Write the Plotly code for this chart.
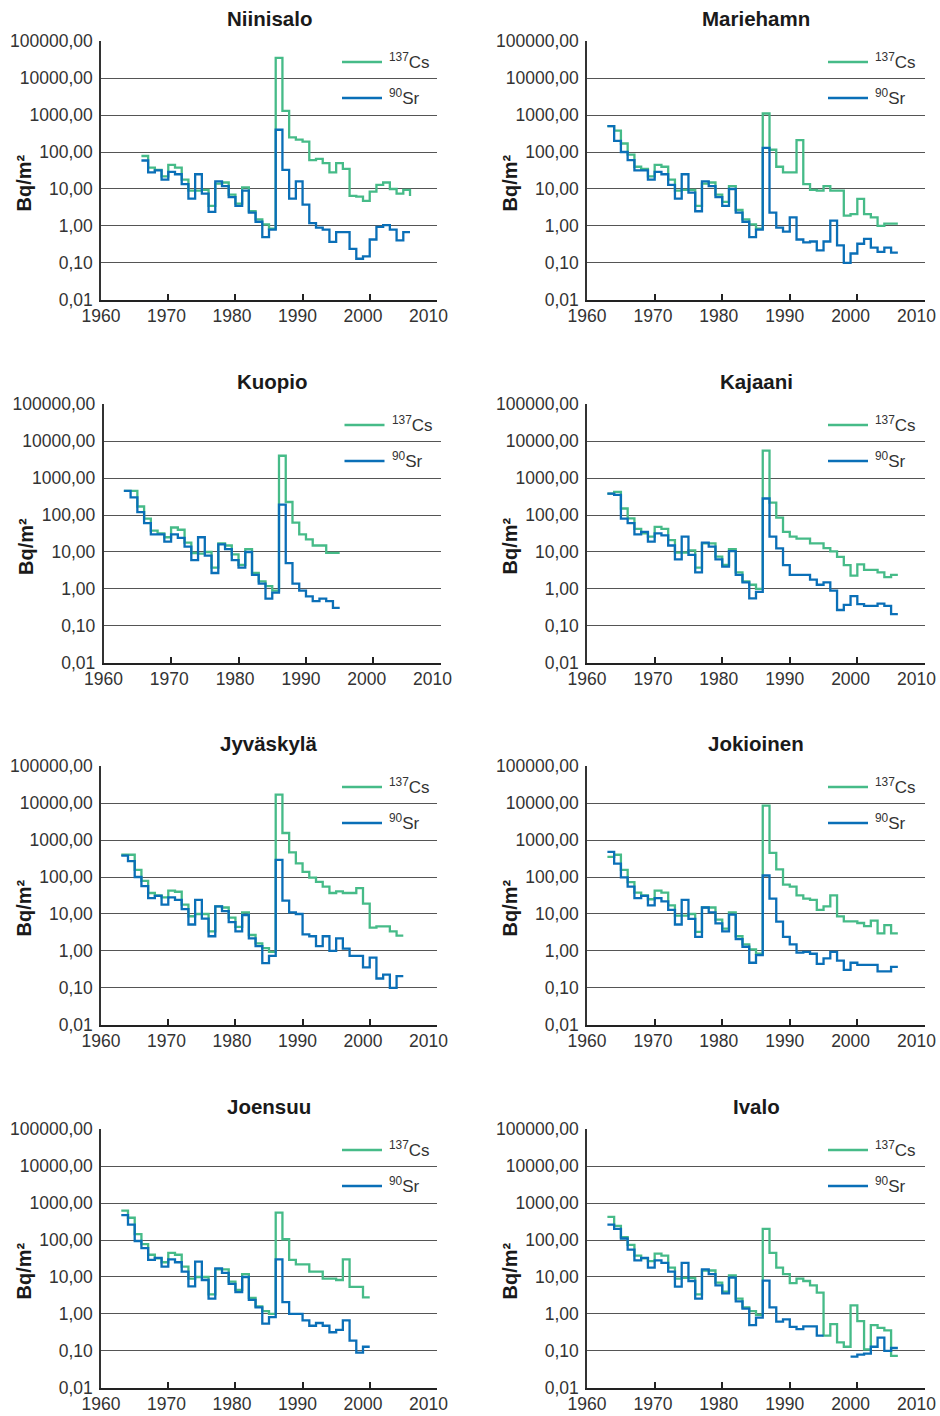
import plotly.graph_objects as go

GREEN = "#46bb88"
BLUE = "#0a6fb7"

# ---------------- data (Bq/m², yearly deposition) ----------------
niinisalo_years = list(range(1966, 2007))
niinisalo_cs = [78, 38, 33, 22, 45, 38, 18, 9, 9, 9.5,
                3.5, 14, 15, 7, 4, 11, 2.5, 1.5, 1.1, 0.85,
                35000, 1300, 250, 215, 190, 60, 65, 50, 28, 50,
                35, 6.5, 6.2, 4.8, 8.5, 13, 15, 10, 7.5, 9.5,
                6.5]
niinisalo_sr = [59, 28, 32, 18, 29, 25, 13.5, 5.5, 25, 7.5,
                2.4, 16, 12, 6, 3.5, 9, 2.3, 1.3, 0.5, 0.8,
                400, 33, 5.5, 16, 3.8, 1.2, 0.9, 0.8, 0.37, 0.68,
                0.68, 0.24, 0.13, 0.15, 0.43, 0.95, 1.05, 0.8, 0.41, 0.68,
                0.68]

mariehamn_years = list(range(1963, 2007))
mariehamn_cs = [500, 380, 170, 85, 40, 35, 22, 45, 40, 18,
                9, 9.5, 9.5, 3.5, 14, 15, 7, 4.5, 12, 2.7,
                1.5, 1.1, 0.85, 1100, 115, 40, 28, 28, 210, 13.5,
                9.5, 9, 12, 9, 9, 1.9, 2.1, 5.4, 2.1, 1.7,
                1.0, 1.15, 1.15, 1.15]
mariehamn_sr = [500, 200, 100, 60, 32, 32, 18, 29, 25, 13,
                5.5, 25, 8, 2.5, 16, 12, 6, 3.5, 10, 2.3,
                1.3, 0.5, 0.8, 130, 2.3, 0.9, 0.7, 1.7, 0.43, 0.36,
                0.38, 0.22, 0.38, 1.4, 0.3, 0.1, 0.18, 0.33, 0.45, 0.26,
                0.2, 0.26, 0.19, 0.19]

kuopio_years = list(range(1963, 1996))
kuopio_cs = [450, 450, 170, 80, 38, 32, 25, 46, 40, 18,
             9.4, 9, 10, 3.8, 17, 15, 8.6, 4.5, 12, 2.7,
             1.6, 1.2, 0.9, 4000, 225, 62, 30, 22, 15, 15,
             9.5, 9.5, 9.5]
kuopio_sr = [450, 300, 120, 60, 30, 30, 19, 30, 24, 14,
             6, 25, 8, 2.7, 16, 12, 6, 3.8, 10, 2.4,
             1.4, 0.55, 0.8, 190, 5, 1.4, 0.9, 0.63, 0.47, 0.55,
             0.47, 0.31, 0.31]

kajaani_years = list(range(1963, 2007))
kajaani_cs = [380, 420, 150, 81, 42, 32, 26, 48, 42, 21,
              9.6, 9.6, 11, 3.8, 17, 17, 7.5, 4.5, 12, 2.8,
              1.6, 1.3, 1.0, 5500, 215, 85, 35, 26, 23, 23,
              17, 17, 12.7, 10.4, 7.4, 4.4, 2.3, 4.6, 3.3, 3.3,
              2.8, 2.1, 2.4, 2.4]
kajaani_sr = [380, 350, 80, 60, 30, 35, 19, 32, 28, 15,
              6.3, 26, 8.4, 2.8, 18, 14, 6.3, 4, 10.5, 2.4,
              1.5, 0.56, 0.83, 280, 26, 12.6, 4.4, 2.4, 2.4, 2.4,
              1.8, 1.3, 1.5, 0.9, 0.27, 0.37, 0.64, 0.39, 0.35, 0.35,
              0.4, 0.35, 0.21, 0.21]

jyvaskyla_years = list(range(1963, 2006))
jyvaskyla_cs = [400, 400, 155, 79, 37, 32, 28, 43, 40, 18,
                8.7, 10, 10, 3.4, 16, 15, 8, 4.5, 11, 2.7,
                1.6, 1.2, 0.95, 17000, 1550, 465, 235, 138, 96, 74,
                55, 37, 41, 37, 37, 50, 19, 4.3, 4.6, 4.6,
                3.4, 2.6, 2.6]
jyvaskyla_sr = [380, 270, 100, 57, 27, 31, 18, 28, 24, 13.5,
                5.2, 24, 7.5, 2.5, 16, 12, 6, 3.4, 9.4, 2.2,
                1.35, 0.47, 0.74, 290, 23, 11, 10, 2.8, 2.5, 1.35,
                2.5, 1.0, 2.2, 1.15, 0.74, 0.74, 0.36, 0.66, 0.18, 0.23,
                0.1, 0.21, 0.21]

jokioinen_years = list(range(1963, 2007))
jokioinen_cs = [350, 400, 155, 73, 38, 32, 25, 43, 38, 17,
                9, 9, 10, 3.3, 15, 15, 7, 4, 11, 2.5,
                1.5, 1.1, 0.85, 8500, 450, 160, 62, 55, 32, 26,
                24, 13, 16, 32, 8.6, 6.3, 6.3, 5.7, 4.7, 6.6,
                3.0, 5.0, 3.0, 3.0]
jokioinen_sr = [480, 230, 98, 55, 27, 31, 17, 27, 22, 13,
                5.2, 24, 7.4, 2.4, 15, 11, 5.6, 3.4, 9.6, 2.1,
                1.3, 0.48, 0.77, 110, 26, 6.2, 2.4, 1.5, 0.9, 0.95,
                0.84, 0.45, 0.63, 0.95, 0.55, 0.31, 0.48, 0.42, 0.42, 0.42,
                0.28, 0.28, 0.37, 0.37]

joensuu_years = list(range(1963, 2001))
joensuu_cs = [620, 400, 145, 77, 40, 32, 25, 45, 40, 19,
              9, 10, 10, 3.4, 16, 16, 7.5, 4.5, 12, 2.7,
              1.6, 1.2, 1.0, 550, 105, 29, 22, 22, 14, 14,
              9, 9, 8.3, 30, 5.4, 5.4, 2.8, 2.8]
joensuu_sr = [470, 260, 94, 60, 29, 33, 19, 30, 25, 14,
              5.6, 26, 8.3, 2.6, 17, 13, 6.5, 3.9, 10, 2.4,
              1.5, 0.55, 0.82, 30, 2.1, 1.0, 1.0, 0.67, 0.48, 0.57,
              0.48, 0.32, 0.37, 0.67, 0.19, 0.09, 0.13, 0.13]

ivalo_years = list(range(1963, 2007))
ivalo_cs = [420, 240, 120, 74, 38, 32, 27, 43, 38, 18,
            9, 9.5, 9.5, 3.4, 15, 15, 7, 4, 11, 2.6,
            1.5, 1.2, 0.95, 200, 45, 18, 12, 6.8, 9, 7.8,
            5.9, 3.8, 0.26, 0.53, 0.17, 0.13, 1.7, 0.64, 0.11, 0.5,
            0.42, 0.36, 0.074, 0.074]
ivalo_sr = [260, 200, 110, 55, 28, 33, 18, 28, 24, 14,
            5.5, 24, 7.8, 2.6, 16, 12, 5.9, 3.6, 9.6, 2.2,
            1.4, 0.5, 0.8, 8, 1.5, 0.62, 0.71, 0.45, 0.39, 0.46,
            0.46, 0.26, 0.26, None, None, None, 0.07, 0.08, 0.085, 0.13,
            0.23, 0.1, 0.12, 0.12]

x_ticks = [1960, 1970, 1980, 1990, 2000, 2010]
y_ticks = [0.01, 0.1, 1, 10, 100, 1000, 10000, 100000]
y_ticktext = ["0,01", "0,10", "1,00", "10,00", "100,00", "1000,00", "10000,00", "100000,00"]
legend_cs = "<sup>137</sup>Cs"
legend_sr = "<sup>90</sup>Sr"
y_title = "Bq/m²"

panels = [
    ("Niinisalo", niinisalo_years, niinisalo_cs, niinisalo_sr),
    ("Mariehamn", mariehamn_years, mariehamn_cs, mariehamn_sr),
    ("Kuopio", kuopio_years, kuopio_cs, kuopio_sr),
    ("Kajaani", kajaani_years, kajaani_cs, kajaani_sr),
    ("Jyväskylä", jyvaskyla_years, jyvaskyla_cs, jyvaskyla_sr),
    ("Jokioinen", jokioinen_years, jokioinen_cs, jokioinen_sr),
    ("Joensuu", joensuu_years, joensuu_cs, joensuu_sr),
    ("Ivalo", ivalo_years, ivalo_cs, ivalo_sr),
]

# ---------------- layout geometry (pixels) ----------------
W, H = 940, 1416
row_tops = [41, 404, 766, 1129]
plot_h = 259
col_lr = {0: (101, 437), 1: (587, 925)}
special_lr = {2: (103.5, 441)}  # Kuopio panel sits slightly to the right
label_shrink = 8.5  # year labels in the original are spaced slightly tighter than the ticks

FONT = "Liberation Sans, Arial, Helvetica, sans-serif"
TXT = "#333333"

fig = go.Figure()
annotations = []
shapes = []
layout_axes = {}

for i, (name, years, cs, sr) in enumerate(panels):
    row, col = divmod(i, 2)
    L, R = special_lr.get(i, col_lr[col])
    T = row_tops[row]
    B = T + plot_h
    n = "" if i == 0 else str(i + 1)
    xa, ya = "x" + n, "y" + n
    nl = str(i + 9)
    xl = "x" + nl

    fig.add_trace(go.Scatter(x=years, y=cs, mode="lines", name="137Cs",
                             line=dict(color=GREEN, width=2.3, shape="hv"),
                             xaxis=xa, yaxis=ya, showlegend=False,
                             connectgaps=False, hoverinfo="skip"))
    fig.add_trace(go.Scatter(x=years, y=sr, mode="lines", name="90Sr",
                             line=dict(color=BLUE, width=2.3, shape="hv"),
                             xaxis=xa, yaxis=ya, showlegend=False,
                             connectgaps=False, hoverinfo="skip"))
    # empty trace to attach the label-only x axis
    fig.add_trace(go.Scatter(x=[], y=[], mode="lines", xaxis=xl, yaxis=ya,
                             showlegend=False, hoverinfo="skip"))

    layout_axes["xaxis" + n] = dict(
        domain=[L / W, R / W], anchor=ya, range=[1959.98, 2010.02],
        tickvals=x_ticks, ticks="inside", ticklen=6, tickwidth=1.5,
        tickcolor="#222", showline=True, linecolor="#222", linewidth=2.2,
        showgrid=False, zeroline=False, showticklabels=False,
        automargin=False, fixedrange=True)
    span = R - L
    layout_axes["xaxis" + nl] = dict(
        domain=[L / W, R / W], anchor=ya, overlaying=xa, side="bottom",
        range=[1960, 1960 + 50 * span / (span - label_shrink)],
        tickvals=x_ticks, ticks="", showline=False, showgrid=False,
        zeroline=False, ticklabelstandoff=3, automargin=False,
        tickfont=dict(family=FONT, size=17.5, color=TXT), fixedrange=True)
    layout_axes["yaxis" + n] = dict(
        domain=[1 - B / H, 1 - T / H], anchor=xa, type="log",
        range=[-2.002, 5.002], tickvals=y_ticks, ticktext=y_ticktext,
        ticks="", showline=True, linecolor="#333", linewidth=1.5,
        showgrid=True, gridcolor="#555555", gridwidth=1.2, zeroline=False,
        ticklabelstandoff=3, automargin=False,
        tickfont=dict(family=FONT, size=17.5, color=TXT), fixedrange=True)

    # title
    annotations.append(dict(x=(L + R) / 2 / W, y=1 - (T - 22.5) / H,
                            xref="paper", yref="paper", showarrow=False,
                            text="<b>%s</b>" % name, xanchor="center",
                            yanchor="middle",
                            font=dict(family=FONT, size=20.5, color="#1a1a1a")))
    # y-axis title
    annotations.append(dict(x=(L - 78) / W, y=1 - ((T + B) / 2 + 13) / H,
                            xref="paper", yref="paper", showarrow=False,
                            text="<b>%s</b>" % y_title, textangle=-90,
                            xanchor="center", yanchor="middle",
                            font=dict(family=FONT, size=20, color="#1a1a1a")))
    # legend
    for k, (lab, colr) in enumerate([(legend_cs, GREEN), (legend_sr, BLUE)]):
        ly = T + 21 + 36 * k
        shapes.append(dict(type="line", xref="paper", yref="paper",
                           x0=(L + 241) / W, x1=(L + 281) / W,
                           y0=1 - ly / H, y1=1 - ly / H,
                           line=dict(color=colr, width=2.5)))
        annotations.append(dict(x=(L + 286) / W, y=1 - (ly - 1) / H,
                                xref="paper", yref="paper", showarrow=False,
                                text=lab, xanchor="left", yanchor="middle",
                                font=dict(family=FONT, size=17, color=TXT)))

fig.update_layout(width=W, height=H, margin=dict(l=0, r=0, t=0, b=0),
                  paper_bgcolor="white", plot_bgcolor="white",
                  showlegend=False, annotations=annotations, shapes=shapes,
                  **layout_axes)

fig.write_html("out.html", config={"displayModeBar": False},
               post_script="document.body.style.margin='0px';")
